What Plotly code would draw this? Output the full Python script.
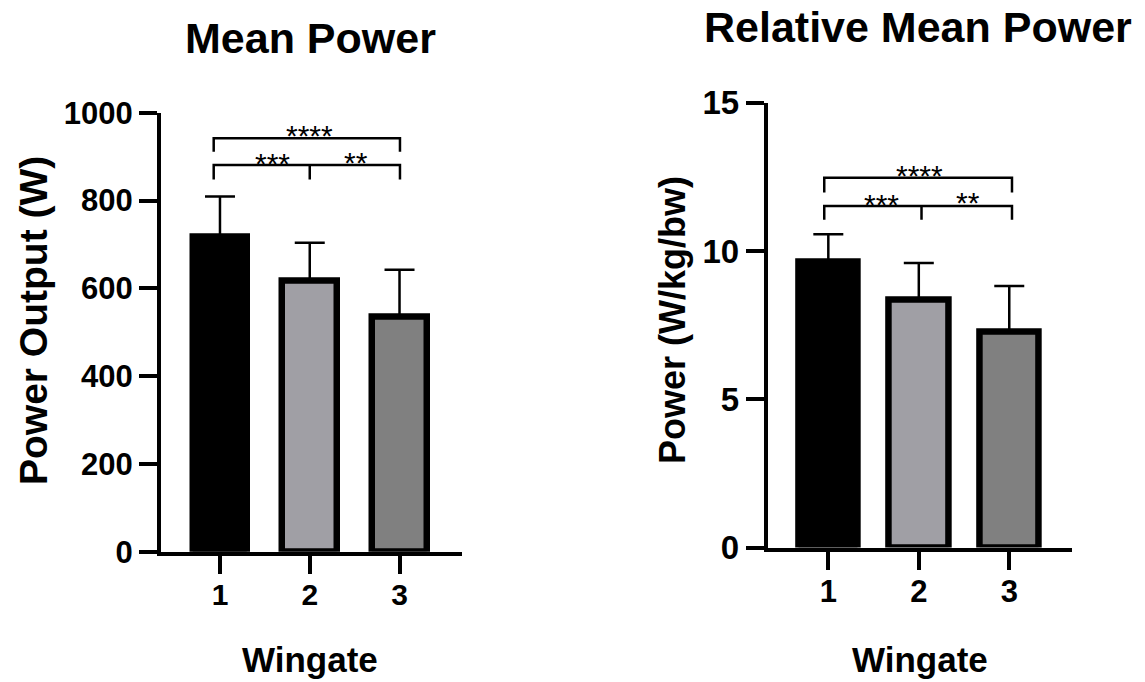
import plotly.graph_objects as go

# ---- data -------------------------------------------------------------
wingate_labels = ["1", "2", "3"]
bar_colors = ["#000000", "#a09fa5", "#808080"]

mean_power = [718, 618, 535]          # W
mean_power_sd = [91, 86, 107]

rel_mean_power = [9.64, 8.36, 7.27]   # W/kg/bw
rel_mean_power_sd = [0.92, 1.23, 1.55]

left_ticks = [0, 200, 400, 600, 800, 1000]
right_ticks = [0, 5, 10, 15]

# significance brackets: (from, to, label)
comparisons = [(0, 2, "****"), (0, 1, "***"), (1, 2, "**")]

FONT = "Liberation Sans, Arial, Helvetica, sans-serif"
W, H = 1145, 682

xpos = list(range(len(wingate_labels)))

fig = go.Figure()


def add_bars(xaxis, yaxis, means, sds, width):
    fig.add_trace(go.Bar(
        x=xpos, y=means, width=width,
        marker=dict(color=bar_colors, line=dict(color="black", width=6.5)),
        error_y=dict(type="data", symmetric=False, array=sds,
                     arrayminus=[0] * len(sds), color="black",
                     thickness=2.5, width=15),
        xaxis=xaxis, yaxis=yaxis, showlegend=False, hoverinfo="skip",
    ))


add_bars("x", "y", mean_power, mean_power_sd, 0.61)
add_bars("x2", "y2", rel_mean_power, rel_mean_power_sd, 0.66)


def add_brackets(xaxis, yaxis, ends, top_y, top_drop, low_y, low_drop,
                 text_y, text_x, fsize):
    l, m, r = ends
    # outer bracket (1 vs 3)
    fig.add_trace(go.Scatter(
        x=[l, l, r, r], y=[top_drop, top_y, top_y, top_drop],
        mode="lines", line=dict(color="black", width=2.5),
        xaxis=xaxis, yaxis=yaxis, showlegend=False, hoverinfo="skip"))
    # inner split bracket (1 vs 2, 2 vs 3)
    fig.add_trace(go.Scatter(
        x=[l, l, r, r, None, m, m], y=[low_drop, low_y, low_y, low_drop, None, low_y, low_drop],
        mode="lines", line=dict(color="black", width=2.5),
        xaxis=xaxis, yaxis=yaxis, showlegend=False, hoverinfo="skip"))
    for (a, b, lab), tx, ty in zip(comparisons, text_x, text_y):
        fig.add_annotation(x=tx, y=ty, xref=xaxis, yref=yaxis, text=lab,
                           showarrow=False, yshift=-7,
                           font=dict(family=FONT, size=fsize, color="black"))


add_brackets("x", "y", (-0.07, 1.0, 2.005), 941.7, 911, 880.6, 848,
             [963, 900, 903], [1.0, 0.58, 1.52], 30)
add_brackets("x2", "y2", (-0.045, 1.03, 2.03), 12.47, 11.97, 11.52, 11.05,
             [12.79, 11.81, 11.86], [1.01, 0.59, 1.54], 30)

axis_common = dict(showline=True, linecolor="black", linewidth=4,
                   ticks="outside", ticklen=18, tickwidth=3.5, tickcolor="black",
                   showgrid=False, zeroline=False, fixedrange=True,
                   automargin=False)

fig.update_layout(
    width=W, height=H,
    margin=dict(l=0, r=0, t=0, b=0, autoexpand=False),
    plot_bgcolor="white", paper_bgcolor="white",
    bargap=0,
    xaxis=dict(domain=[161 / W, 462 / W], range=[-0.657, 2.696],
               tickvals=xpos, ticktext=[f"<b>{t}</b>" for t in wingate_labels],
               tickfont=dict(family=FONT, size=30, color="black"),
               ticklabelstandoff=-5, anchor="y", **axis_common),
    yaxis=dict(domain=[1 - 551.7 / H, 1 - 112.7 / H], range=[0, 1000],
               tickvals=left_ticks, ticktext=[f"<b>{t}</b>" for t in left_ticks],
               tickfont=dict(family=FONT, size=31, color="black"),
               anchor="x", **axis_common),
    xaxis2=dict(domain=[767.7 / W, 1071.7 / W], range=[-0.67, 2.69],
                tickvals=xpos, ticktext=[f"<b>{t}</b>" for t in wingate_labels],
                tickfont=dict(family=FONT, size=31, color="black"),
                ticklabelstandoff=-5, anchor="y2", **axis_common),
    yaxis2=dict(domain=[1 - 547.5 / H, 1 - 102.7 / H], range=[0, 15],
                tickvals=right_ticks, ticktext=[f"<b>{t}</b>" for t in right_ticks],
                tickfont=dict(family=FONT, size=33, color="black"),
                anchor="x2", **axis_common),
)


def paper_text(text, px, py, size, angle=0):
    fig.add_annotation(x=px / W, y=1 - py / H, xref="paper", yref="paper",
                       text=f"<b>{text}</b>", showarrow=False, textangle=angle,
                       xanchor="center", yanchor="middle",
                       font=dict(family=FONT, size=size, color="black"))


paper_text("Mean Power", 310, 38, 43)
paper_text("Relative Mean Power", 918, 27, 43)
paper_text("Power Output (W)", 33, 321, 39, -90)
paper_text("Power (W/kg/bw)", 672, 320, 36, -90)
paper_text("Wingate", 310, 659, 35)
paper_text("Wingate", 920, 659, 35)

fig.write_html("out.html")
